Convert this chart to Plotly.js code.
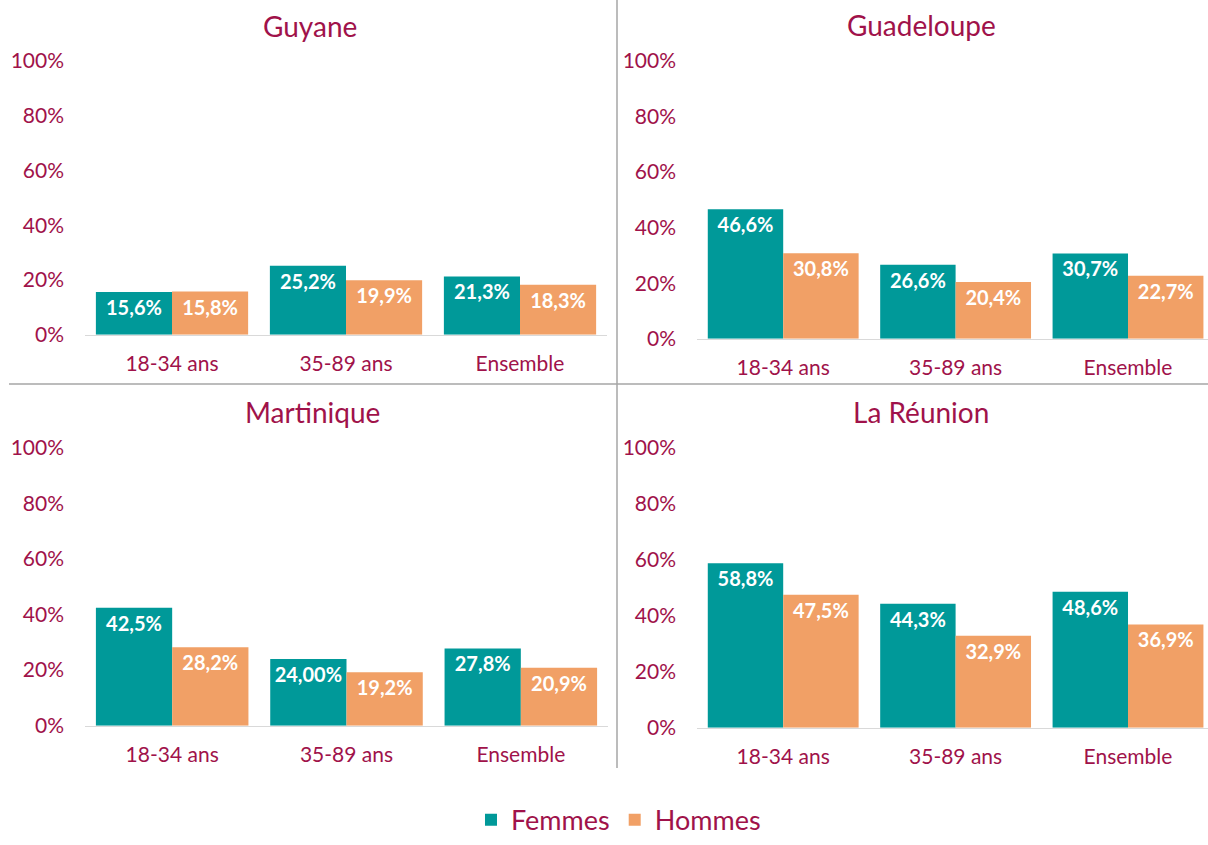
<!DOCTYPE html>
<html>
<head>
<meta charset="utf-8">
<script src="https://cdn.plot.ly/plotly-3.0.1.min.js"></script>
<style>html,body{margin:0;padding:0;background:#fff;overflow:hidden}#chart{width:1208px;height:845px}</style>
</head>
<body>
<div id="chart"></div>
<script>
const categories = ["18-34 ans", "35-89 ans", "Ensemble"];
const regions = ["Guyane", "Guadeloupe", "Martinique", "La Réunion"];
const seriesNames = ["Femmes", "Hommes"];

const guyaneFemmes = [15.6, 25.2, 21.3];
const guyaneHommes = [15.8, 19.9, 18.3];
const guadeloupeFemmes = [46.6, 26.6, 30.7];
const guadeloupeHommes = [30.8, 20.4, 22.7];
const martiniqueFemmes = [42.5, 24.0, 27.8];
const martiniqueHommes = [28.2, 19.2, 20.9];
const reunionFemmes = [58.8, 44.3, 48.6];
const reunionHommes = [47.5, 32.9, 36.9];
const martiniqueFemmesLabels = ["42,5%", "24,00%", "27,8%"];

const yTicks = [0, 20, 40, 60, 80, 100];

const W = 1208, H = 845;
const TEAL = "#009999", ORANGE = "#F1A066", CRIMSON = "#A0124A";
const FONT = "Lato, 'Open Sans', sans-serif";

function fmt(v) { return v.toFixed(1).replace(".", ",") + "%"; }

const panelData = [
  { f: guyaneFemmes, h: guyaneHommes, fl: guyaneFemmes.map(fmt) },
  { f: guadeloupeFemmes, h: guadeloupeHommes, fl: guadeloupeFemmes.map(fmt) },
  { f: martiniqueFemmes, h: martiniqueHommes, fl: martiniqueFemmesLabels },
  { f: reunionFemmes, h: reunionHommes, fl: reunionFemmes.map(fmt) }
];

// panel geometry in pixels
const panels = [
  { x0: 85, x1: 607, xr: [-0.5, 2.5], top: 62, bot: 340, tx: 310, ty: 26 },
  { x0: 697, x1: 1208, xr: [-0.5, 2.464], top: 62, bot: 344, tx: 921, ty: 25 },
  { x0: 85, x1: 608, xr: [-0.5, 2.5], top: 455, bot: 737, tx: 312, ty: 418 },
  { x0: 697, x1: 1208, xr: [-0.5, 2.464], top: 455, bot: 739, tx: 921, ty: 418 }
];

const traces = [];
const layout = {
  width: W, height: H,
  margin: { l: 0, r: 0, t: 0, b: 0 },
  paper_bgcolor: "#fff", plot_bgcolor: "#fff",
  barmode: "group", bargap: 0.125, bargroupgap: 0,
  font: { family: FONT, color: CRIMSON },
  showlegend: true,
  legend: {
    orientation: "h", x: 0.512, xanchor: "center", y: 0.0142, yanchor: "middle",
    font: { family: FONT, size: 27, color: CRIMSON }, itemwidth: 30, tracegroupgap: 0
  },
  annotations: [],
  shapes: [
    { type: "line", xref: "paper", yref: "paper", x0: 617 / W, x1: 617 / W, y0: 1, y1: (H - 780) / H,
      line: { color: "#a6a6a6", width: 1.5 } },
    { type: "line", xref: "paper", yref: "paper", x0: 9 / W, x1: 1, y0: (H - 390) / H, y1: (H - 390) / H,
      line: { color: "#a6a6a6", width: 1.5 } }
  ]
};

panels.forEach((p, i) => {
  const n = i === 0 ? "" : String(i + 1);
  const d = panelData[i];
  const common = {
    type: "bar", x: categories, xaxis: "x" + n, yaxis: "y" + n,
    textposition: "inside", insidetextanchor: "end", textangle: 0,
    textfont: { family: FONT, size: 20, color: "#fff", weight: "bold" },
    hoverinfo: "skip"
  };
  traces.push(Object.assign({}, common, {
    name: seriesNames[0], y: d.f, text: d.fl, marker: { color: TEAL, line: { width: 0 } },
    legendgroup: "f", showlegend: i === 0
  }));
  traces.push(Object.assign({}, common, {
    name: seriesNames[1], y: d.h, text: d.h.map(fmt), marker: { color: ORANGE, line: { width: 0 } },
    legendgroup: "h", showlegend: i === 0
  }));
  layout["xaxis" + n] = {
    domain: [p.x0 / W, p.x1 / W], range: p.xr, anchor: "y" + n,
    type: "category", showgrid: false, zeroline: false,
    showline: true, linecolor: "#d9d9d9", linewidth: 1.5,
    ticks: "", ticklabelstandoff: 10,
    tickfont: { family: FONT, size: 21, color: CRIMSON }, fixedrange: true
  };
  layout["yaxis" + n] = {
    domain: [(H - p.bot) / H, (H - p.top) / H], range: [0, 100], anchor: "x" + n,
    tickvals: yTicks, ticktext: yTicks.map(v => v + "%"),
    showgrid: false, zeroline: false, showline: false, ticks: "",
    ticklabelstandoff: 20,
    tickfont: { family: FONT, size: 21, color: CRIMSON }, fixedrange: true
  };
  layout.annotations.push({
    text: regions[i], xref: "paper", yref: "paper", x: p.tx / W, y: (H - p.ty) / H,
    xanchor: "center", yanchor: "middle", showarrow: false,
    font: { family: FONT, size: 28, color: CRIMSON }
  });
});

Plotly.newPlot("chart", traces, layout, { staticPlot: true, displayModeBar: false });
</script>
</body>
</html>
